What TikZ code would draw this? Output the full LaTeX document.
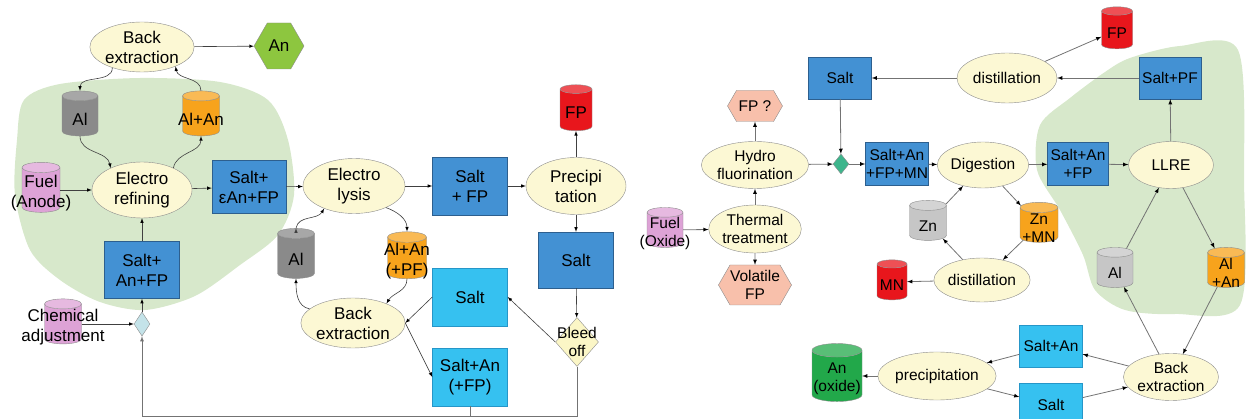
\documentclass[tikz,border=0pt]{standalone}
\usepackage{fontspec}
\setmainfont{Liberation Sans}
\usetikzlibrary{shapes.geometric,shapes.symbols,positioning}

\definecolor{cream}{HTML}{FCF8D4}
\definecolor{saltblue}{HTML}{4391D3}
\definecolor{saltline}{HTML}{2D5F8E}
\definecolor{skyblue}{HTML}{36C1F0}
\definecolor{skyline}{HTML}{2696C8}
\definecolor{alumgray}{HTML}{8A8A8A}
\definecolor{lightgray}{HTML}{C6C6C6}
\definecolor{amber}{HTML}{F7A31C}
\definecolor{fuelpink}{HTML}{DDA2D6}
\definecolor{fpred}{HTML}{E8161C}
\definecolor{lime}{HTML}{8DC63F}
\definecolor{salmon}{HTML}{F8C0AB}
\definecolor{oxgreen}{HTML}{22A84A}
\definecolor{mixcyan}{HTML}{C4E3E9}
\definecolor{mixgreen}{HTML}{3DB58C}
\definecolor{bleedy}{HTML}{FBF6C6}
\definecolor{blob}{HTML}{D7E8CB}

\newcommand{\lsize}{\fontsize{17}{20}\selectfont}
\newcommand{\rsize}{\fontsize{15.5}{18}\selectfont}
\newcommand{\hold}[1]{\rule{#1pt}{0pt}}

\begin{document}
\begin{tikzpicture}[x=1pt,y=1pt,>=latex,on grid,
    proc/.style={ellipse,draw=black!45,fill=cream,align=center,inner sep=0pt},
    salt/.style={rectangle,draw=saltline,fill=saltblue,align=center,inner sep=0pt},
    sky/.style={rectangle,draw=skyline,fill=skyblue,align=center,inner sep=0pt},
    tank/.style={cylinder,shape border rotate=90,shape aspect=0.27,draw=black!45,
      cylinder uses custom fill,cylinder body fill=#1,cylinder end fill=#1!75!white,inner sep=0pt},
    hexa/.style={signal,signal to=west and east,signal pointer angle=120,
      draw=black!45,fill=#1,align=center,inner sep=0pt},
    mix/.style={diamond,draw=black!45,fill=#1,inner sep=0pt},
    tag/.style={align=center,inner sep=0pt,yshift=-3pt},
    flow/.style={->,draw=black!75,line width=0.6pt},
    rflow/.style={->,draw=black!55,line width=0.8pt}]
  \useasboundingbox (0,0) rectangle (1247,-419);

  % green zones
  \fill[blob] plot[smooth cycle] coordinates {(17,-140) (24,-100) (60,-84) (140,-78)
    (220,-82) (268,-100) (288,-140) (294,-195) (278,-235) (240,-265) (195,-296)
    (145,-310) (100,-302) (60,-280) (30,-250) (15,-195)};
  \fill[blob] plot[smooth cycle] coordinates {(1130,-58) (1180,-46) (1238,-50)
    (1244,-180) (1240,-305) (1175,-314) (1125,-310) (1095,-290) (1083,-255)
    (1060,-210) (1037,-170) (1040,-125) (1070,-98) (1105,-72)};

  % pyro route
  \begin{scope}[every node/.append style={font=\lsize}]
  \node[proc,minimum width=100,minimum height=50] (bex1) at (142,-47) {Back\\extraction};
  \node[hexa=lime,minimum width=50,minimum height=46] (an) at (279,-46) {An};
  \node[tank=alumgray,minimum height=45,label={[tag]center:Al}] (al1) at (80,-116) {\hold{36}};
  \node[tank=amber,minimum height=45,label={[tag]center:Al+An}] (alan1) at (201,-116) {\hold{37}};
  \node[proc,minimum width=100,minimum height=56] (eref) at (142,-190) {Electro\\refining};
  \node[tank=fuelpink,minimum height=50,label={[tag]center:Fuel\\(Anode)}] (fuel1) [left=101pt of eref] {\hold{38}};
  \node[salt,minimum width=74,minimum height=53] (sean) at (249,-187) {Salt+\\εAn+FP};
  \node[salt,minimum width=75,minimum height=57] (saf) [below=80pt of eref] {Salt+\\An+FP};
  \node[mix=mixcyan,minimum width=16,minimum height=24] (mix1) at (142,-324) {};
  \node[tank=fuelpink,minimum height=45,label={[tag]center:Chemical\\adjustment}] (chem) at (63,-324) {\hold{37}};
  \node[proc,minimum width=102,minimum height=55] (elys) at (354,-186) {Electro\\lysis};
  \node[salt,minimum width=75,minimum height=58] (sfp) [right=116pt of elys] {Salt\\+ FP};
  \node[proc,minimum width=100,minimum height=57] (prec) [right=106pt of sfp] {Precipi\\tation};
  \node[tank=fpred,minimum height=46,label={[tag]center:FP}] (fp1) at (576,-110) {\hold{32}};
  \node[salt,minimum width=75,minimum height=56] (salt1) at (576,-260) {Salt};
  \node[mix=bleedy,minimum width=43,minimum height=49,
    label={[tag,yshift=3pt,font=\rsize]center:Bleed\\off}] (bleed) at (577,-342) {};
  \node[sky,minimum width=75,minimum height=58] (salt2) at (470,-297) {Salt};
  \node[sky,minimum width=75,minimum height=58] (saltan) [below=80pt of salt2] {Salt+An\\(+FP)};
  \node[proc,minimum width=100,minimum height=50] (bex2) at (353,-323) {Back\\extraction};
  \node[tank=alumgray,minimum height=50,label={[tag]center:Al}] (al2) at (296,-256) {\hold{37}};
  \node[tank=amber,minimum height=47,label={[tag]center:Al+An\\(+PF)}] (alan2) at (407,-258) {\hold{39}};
  \end{scope}
  \coordinate (ret) at (142,-416);

  \path[flow]
    (bex1) edge (an)
    (bex1.215) edge[out=-90,in=90] (al1.north)
    (alan1.north) edge[out=90,in=-80] (bex1.-30)
    (al1.south) edge[out=-90,in=100] (eref.145)
    (eref.35) edge[out=80,in=-90] (alan1.south)
    (fuel1) edge (eref)
    (eref) edge (sean)
    (sean) edge (elys)
    (saf) edge (eref)
    (chem) edge (mix1)
    (mix1) edge (saf)
    (elys) edge (sfp)
    (sfp) edge (prec)
    (prec) edge (fp1)
    (prec) edge (salt1)
    (salt1) edge (bleed)
    (bleed.west) edge (salt2.east)
    (salt2.west) edge (bex2.east)
    (bex2.east) edge (saltan.west)
    (elys.-34) edge[out=-20,in=90] (alan2.north)
    (alan2.south) edge[out=-90,in=60] (bex2.30)
    (bex2.162) edge[out=170,in=-90] (al2.south)
    (al2.north) edge[out=80,in=-120] (elys.217);
  \draw[flow,draw=black!55,line width=0.8pt] (bleed.south) |- (ret) -- (mix1.south);
  \draw[draw=black!55,line width=0.8pt] (saltan.south) -- (saltan.south |- ret);

  % oxide route
  \begin{scope}[every node/.append style={font=\rsize}]
  \node[proc,minimum width=84,minimum height=48] (therm) at (755,-229) {Thermal\\treatment};
  \node[tank=fuelpink,minimum height=40,label={[tag]center:Fuel\\(Oxide)}] (fuel2) at (665,-230) {\hold{36}};
  \node[hexa=salmon,minimum width=71,minimum height=40] (vfp) [below=56pt of therm] {Volatile\\FP};
  \node[proc,minimum width=84,minimum height=47] (hydro) [above=64pt of therm] {Hydro\\fluorination};
  \node[hexa=salmon,minimum width=55,minimum height=31] (fpq) [above=59pt of hydro] {FP ?};
  \node[salt,minimum width=63,minimum height=42] (salt3) at (840,-78) {Salt};
  \node[mix=mixgreen,minimum width=16,minimum height=20] (mix2) at (841,-164) {};
  \node[salt,minimum width=63,minimum height=43] (safm) at (897,-164) {Salt+An\\+FP+MN};
  \node[proc,minimum width=81,minimum height=46] (dig) at (983,-165) {Digestion};
  \node[tank=lightgray,minimum height=40,label={[tag]center:Zn}] (zn) at (928,-223) {\hold{37}};
  \node[tank=amber,minimum height=40,label={[tag]center:Zn\\+MN}] (znmn) at (1039,-225) {\hold{38}};
  \node[proc,minimum width=85,minimum height=44] (dist2) at (982,-280) {distillation};
  \node[tank=fpred,minimum height=40,label={[tag]center:MN}] (mn) at (892,-282) {\hold{30}};
  \node[proc,minimum width=100,minimum height=50] (dist1) at (1007,-78) {distillation};
  \node[tank=fpred,minimum height=42,label={[tag]center:FP}] (fp2) at (1117,-30) {\hold{31}};
  \node[salt,minimum width=62,minimum height=42] (spf) at (1170,-78) {Salt+PF};
  \node[salt,minimum width=61,minimum height=43] (saf2) at (1078,-164) {Salt+An\\+FP};
  \node[proc,minimum width=85,minimum height=47] (llre) at (1171,-165) {LLRE};
  \node[tank=lightgray,minimum height=40,label={[tag]center:Al}] (al3) at (1115,-270) {\hold{36}};
  \node[tank=amber,minimum height=40,label={[tag]center:Al\\+An}] (alan3) at (1226,-270) {\hold{37}};
  \node[proc,minimum width=85,minimum height=47] (bex3) at (1171,-377) {Back\\extraction};
  \node[sky,minimum width=63,minimum height=42] (san) at (1051,-346) {Salt+An};
  \node[sky,minimum width=63,minimum height=44] (salt4) at (1051,-405) {Salt};
  \node[proc,minimum width=98,minimum height=48] (precip) at (937,-376) {precipitation};
  \node[tank=oxgreen,minimum height=58,label={[tag]center:An\\(oxide)}] (anox) at (837,-376) {\hold{50}};
  \end{scope}

  \path[rflow]
    (fuel2) edge (therm)
    (therm) edge (vfp)
    (therm) edge (hydro)
    (hydro) edge (fpq)
    (hydro) edge (mix2)
    (salt3) edge (mix2)
    (mix2) edge (safm)
    (safm) edge (dig)
    (dig) edge (saf2)
    (saf2) edge (llre)
    (llre) edge (spf)
    (spf) edge (dist1)
    (dist1) edge (salt3)
    (dist1) edge (fp2)
    (dig) edge (znmn)
    (znmn) edge (dist2)
    (dist2) edge (zn)
    (zn) edge (dig)
    (dist2) edge (mn)
    (llre) edge (alan3)
    (alan3) edge (bex3)
    (bex3) edge (al3)
    (al3) edge (llre)
    (bex3) edge (san)
    (san) edge (precip)
    (precip) edge (salt4)
    (salt4) edge (bex3)
    (precip) edge (anox);
\end{tikzpicture}
\end{document}
